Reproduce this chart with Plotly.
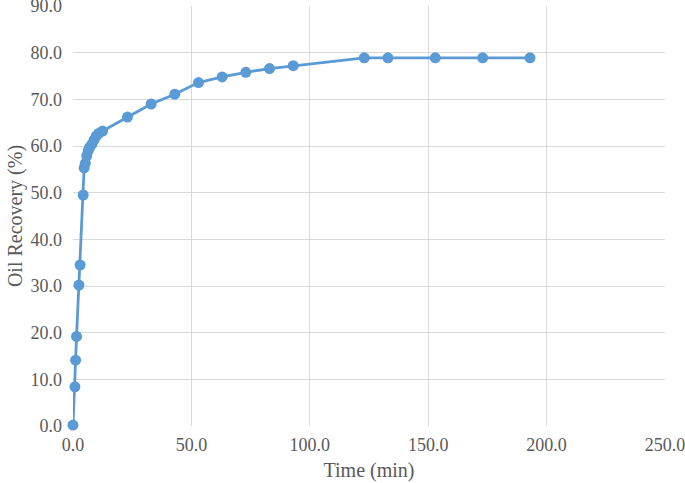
import plotly.graph_objects as go


# =====================================================
# DATA
# =====================================================

time_min = [
    0.0, 0.8, 1.1, 1.5, 2.5, 3.0, 4.3, 4.7, 5.2, 5.8,
    6.4, 7.0, 8.0, 8.9, 9.8, 10.8, 12.5,
    23.0, 33.0, 43.0, 53.0, 63.0, 73.0, 83.0, 93.0,
    123.0, 133.0, 153.0, 173.0, 193.0
]

oil_recovery = [
    0.2, 8.4, 14.1, 19.2, 30.2, 34.5, 49.5, 55.3, 56.3, 57.9,
    59.0, 59.7, 60.4, 61.3, 62.1, 62.7, 63.2,
    66.2, 69.0, 71.1, 73.6, 74.8, 75.8, 76.6, 77.2,
    78.9, 78.9, 78.9, 78.9, 78.9
]


# =====================================================
# FIGURE
# =====================================================

blue = "#5B9BD5"
grey_text = "#595959"
grid = "#D9D9D9"
serif = "Liberation Serif, Times New Roman, DejaVu Serif, serif"

fig = go.Figure(
    go.Scatter(
        x=time_min,
        y=oil_recovery,
        mode="lines+markers",
        line={"color": blue, "width": 2.8},
        marker={"color": blue, "size": 11},
        cliponaxis=False,
        showlegend=False
    )
)

axis_font = {"family": serif, "size": 18, "color": grey_text}
title_font = {"family": serif, "size": 20, "color": grey_text}

fig.update_xaxes(
    range=[0, 250],
    dtick=50,
    tickformat=".1f",
    showgrid=True,
    gridcolor=grid,
    gridwidth=1.3,
    zeroline=False,
    showline=False,
    automargin=False,
    tickfont=axis_font,
    ticklabelstandoff=6,
    title={"text": "Time (min)", "font": title_font, "standoff": 8}
)

fig.update_yaxes(
    range=[0, 90],
    dtick=10,
    tickformat=".1f",
    showgrid=True,
    gridcolor=grid,
    gridwidth=1.3,
    zeroline=False,
    showline=False,
    automargin=False,
    tickfont=axis_font,
    ticklabelstandoff=10,
    title={"text": "Oil Recovery (%)", "font": title_font, "standoff": 2}
)

# figure is a bit larger than the window so the end tick labels
# (90.0 at the top, 250.0 at the right) stay inside the svg
fig.update_layout(
    width=690,
    height=489,
    font={"family": serif},
    margin={"l": 73, "r": 25, "t": 12, "b": 57},
    paper_bgcolor="white",
    plot_bgcolor="white"
)

fig.write_html(
    "out.html",
    config={"displayModeBar": False},
    post_script=(
        "document.body.style.margin='-6px 0 0 0';"
        "document.body.style.overflow='hidden';"
        "document.documentElement.style.overflow='hidden';"
    )
)
